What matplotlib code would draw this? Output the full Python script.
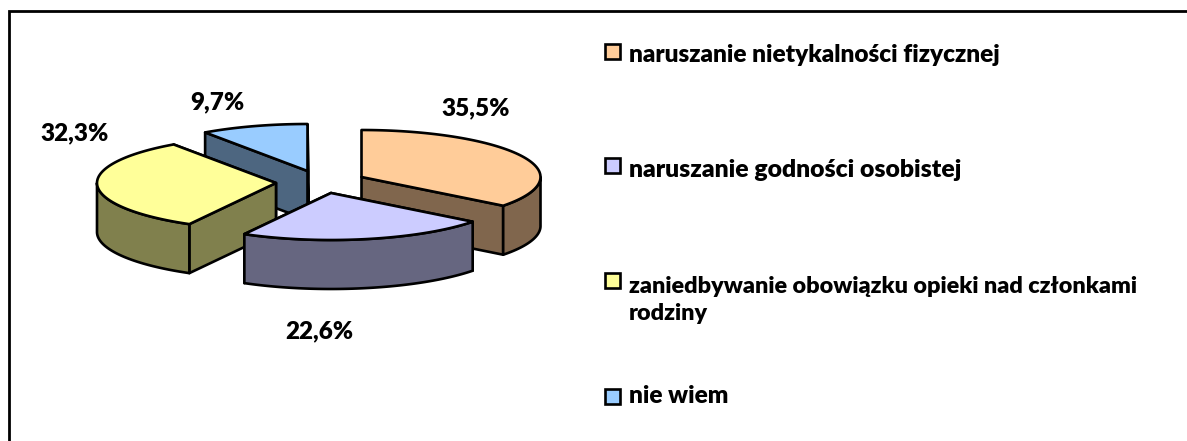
import numpy as np
import matplotlib
matplotlib.use("Agg")
import matplotlib.pyplot as plt
from matplotlib.patches import Polygon, Rectangle

labels = ["naruszanie nietykalności fizycznej",
          "naruszanie godności osobistej",
          "zaniedbywanie obowiązku opieki nad członkami\nrodziny",
          "nie wiem"]
values = [35.5, 22.6, 32.3, 9.7]
colors = ["#FFCC99", "#CCCCFF", "#FFFF99", "#99CCFF"]
sides = ["#80664D", "#666680", "#80804D", "#4D6680"]

# apex of each exploded slice, in pixels
apex = [(361.5, 177), (331, 193), (276, 183), (307.5, 171)]
rx, ry, depth = 179, 47, 49
draw_order = [3, 2, 0, 1]
pct_pos = [(476, 108), (319, 331), (75, 133), (217, 102)]
legend_y = [51, 165, 280, 396]
legend_text_y = [55, 170, 300, 396]
legend_size = [17.6, 17.8, 16.8, 17.6]

plt.rcParams['font.family'] = ['Lato', 'DejaVu Sans']
fig = plt.figure(figsize=(11.87, 4.41), dpi=100)
ax = fig.add_axes([0, 0, 1, 1])
ax.set_xlim(0, 1187)
ax.set_ylim(441, 0)
ax.axis('off')

ax.plot([8.5, 8.5, 1187], [441, 10.5, 10.5], color='black', lw=2, solid_joinstyle='miter')

edges = np.concatenate([[0], np.cumsum(values)]) / np.sum(values) * 2 * np.pi


def arc(cx, cy, a, b):
    t = np.linspace(a, b, 80)
    return np.column_stack([cx + rx * np.sin(t), cy - ry * np.cos(t)])


def face(pts, color):
    low = pts[::-1] + [0, depth]
    ax.add_patch(Polygon(np.vstack([pts, low]), closed=True, fc=color, ec='black', lw=1.9, joinstyle='round'))


for i in draw_order:
    cx, cy = apex[i]
    a, b = edges[i], edges[i + 1]
    # back radial wall first, the nearer one over it
    for ang in sorted((a, b), key=lambda t: -np.cos(t)):
        face(np.vstack([[cx, cy], arc(cx, cy, ang, ang)[:1]]), sides[i])
    lo, hi = max(a, np.pi / 2), min(b, 3 * np.pi / 2)
    if lo < hi:
        face(arc(cx, cy, lo, hi), sides[i])
    ax.add_patch(Polygon(np.vstack([[cx, cy], arc(cx, cy, a, b)]), closed=True,
                         fc=colors[i], ec='black', lw=1.9, joinstyle='round'))

for v, (x, y) in zip(values, pct_pos):
    ax.text(x, y, f"{v:.1f}%".replace('.', ','), ha='center', va='center',
            fontsize=17.5, fontweight='heavy', color='black')

for lab, col, ys, yt, fs in zip(labels, colors, legend_y, legend_text_y, legend_size):
    ax.add_patch(Rectangle((605, ys - 7.5), 15, 15, fc=col, ec='black', lw=1.9))
    ax.text(629, yt, lab, ha='left', va='center', fontsize=fs, fontweight='heavy',
            color='black', linespacing=1.4)

fig.savefig("out.png", dpi=100)
